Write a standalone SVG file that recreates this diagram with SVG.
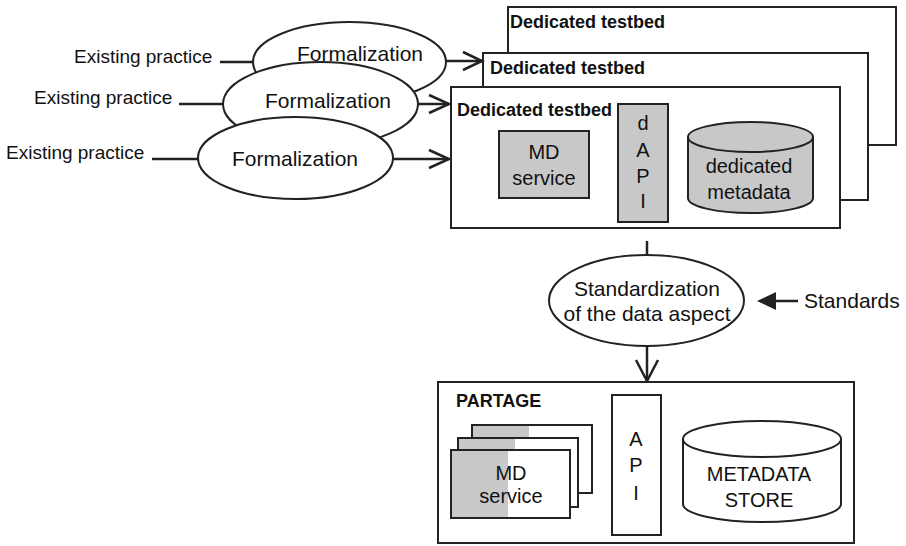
<svg xmlns="http://www.w3.org/2000/svg" width="906" height="546" viewBox="0 0 906 546">
  <style>
    .bg { fill: #ffffff; }
    .box { fill: #ffffff; stroke: #222; stroke-width: 2; }
    .gray { fill: #c8c8c9; stroke: #222; stroke-width: 2; }
    .shade { fill: #c8c8c9; stroke: none; }
    .edge { fill: none; stroke: #222; stroke-width: 2.5; }
    .head { fill: none; stroke: #222; stroke-width: 2.5; stroke-linejoin: miter; }
    .t { font-family: "Liberation Sans", Arial, sans-serif; fill: #111; }
    .lbl { font-size: 19px; }
    .proc { font-size: 21px; text-anchor: middle; }
    .title { font-size: 18px; font-weight: bold; }
    .inner { font-size: 20px; text-anchor: middle; }
  </style>

  <rect class="bg" x="0" y="0" width="906" height="546"/>

  <!-- Input labels -->
  <g id="practice1"><text class="t lbl" x="74" y="63">Existing practice</text></g>
  <g id="practice2"><text class="t lbl" x="34" y="104">Existing practice</text></g>
  <g id="practice3"><text class="t lbl" x="6" y="159">Existing practice</text></g>

  <!-- Stacked testbeds (back to front) -->
  <g id="testbed3">
    <rect class="box" x="508" y="7" width="388" height="138"/>
    <text class="t title" x="510" y="28">Dedicated testbed</text>
  </g>
  <g id="testbed2">
    <rect class="box" x="483" y="53" width="385" height="147"/>
    <text class="t title" x="490" y="74">Dedicated testbed</text>
  </g>
  <g id="testbed1">
    <rect class="box" x="451" y="87" width="389" height="141"/>
    <text class="t title" x="457" y="116">Dedicated testbed</text>
    <g id="md-service">
      <rect class="gray" x="499" y="131" width="90" height="67"/>
      <text class="t inner" x="544" y="159">MD</text>
      <text class="t inner" x="544" y="185">service</text>
    </g>
    <g id="dapi">
      <rect class="gray" x="618" y="104" width="50" height="118"/>
      <text class="t inner" x="643" y="130">d</text>
      <text class="t inner" x="643" y="157">A</text>
      <text class="t inner" x="643" y="183">P</text>
      <text class="t inner" x="643" y="208">I</text>
    </g>
    <g id="dedicated-metadata">
      <path class="gray" d="M688,137 L688,198 A62.5,15 0 0 0 813,198 L813,137 Z"/>
      <ellipse class="gray" cx="750.5" cy="137" rx="62.5" ry="15"/>
      <text class="t inner" x="749" y="173">dedicated</text>
      <text class="t inner" x="749" y="199">metadata</text>
    </g>
  </g>

  <!-- Connectors -->
  <g id="connectors">
    <line class="edge" x1="220" y1="62" x2="254" y2="62"/>
    <line class="edge" x1="179" y1="104" x2="224" y2="104"/>
    <line class="edge" x1="152" y1="159" x2="199" y2="159"/>
    <line class="edge" x1="440" y1="61" x2="482" y2="61"/>
    <polyline class="head" points="463,52 482,61 463,70"/>
    <line class="edge" x1="410" y1="104" x2="449" y2="104"/>
    <polyline class="head" points="429,95 449,104 429,113"/>
    <line class="edge" x1="390" y1="159" x2="449" y2="159"/>
    <polyline class="head" points="429,150 449,159 429,168"/>
    <line class="edge" x1="647" y1="241" x2="647" y2="256"/>
    <line class="edge" x1="647" y1="345" x2="647" y2="381"/>
    <polyline class="head" points="636,360 647,381 658,360"/>
    <line class="edge" x1="770" y1="301" x2="798" y2="301"/>
    <polygon fill="#222" points="757,301 776,292 776,310"/>
  </g>

  <!-- Formalization processes (back to front) -->
  <g id="formalization1">
    <ellipse class="box" cx="349.5" cy="62" rx="96.5" ry="40"/>
    <text class="t proc" x="360" y="61">Formalization</text>
  </g>
  <g id="formalization2">
    <ellipse class="box" cx="320.5" cy="104" rx="97.5" ry="42"/>
    <text class="t proc" x="328" y="108">Formalization</text>
  </g>
  <g id="formalization3">
    <ellipse class="box" cx="295.5" cy="158" rx="97.5" ry="41"/>
    <text class="t proc" x="295" y="166">Formalization</text>
  </g>

  <!-- Standardization process -->
  <g id="standardization">
    <ellipse class="box" cx="646.5" cy="300.5" rx="97.5" ry="45.5"/>
    <text class="t proc" x="647" y="296">Standardization</text>
    <text class="t proc" x="647" y="321">of the data aspect</text>
  </g>
  <g id="standards">
    <text class="t" x="804" y="308" font-size="21px">Standards</text>
  </g>

  <!-- PARTAGE platform -->
  <g id="partage">
    <rect class="box" x="438" y="382" width="416" height="161"/>
    <text class="t title" x="456" y="407">PARTAGE</text>
    <g id="md-services">
      <rect class="box" x="472" y="425" width="120" height="68"/>
      <rect class="shade" x="473" y="426" width="56" height="66"/>
      <rect class="box" x="458" y="438" width="120" height="69"/>
      <rect class="shade" x="459" y="439" width="56" height="67"/>
      <rect class="box" x="451" y="450" width="119" height="68"/>
      <rect class="shade" x="452" y="451" width="56" height="66"/>
      <rect x="451" y="450" width="119" height="68" fill="none" stroke="#222" stroke-width="2"/>
      <text class="t inner" x="511" y="480">MD</text>
      <text class="t inner" x="511" y="503">service</text>
    </g>
    <g id="api">
      <rect class="box" x="612" y="395" width="49" height="140"/>
      <text class="t inner" x="636" y="446">A</text>
      <text class="t inner" x="636" y="472">P</text>
      <text class="t inner" x="636" y="500">I</text>
    </g>
    <g id="metadata-store">
      <path class="box" d="M683,439 L683,504 A79,18 0 0 0 841,504 L841,439 Z"/>
      <ellipse class="box" cx="762" cy="439" rx="79" ry="18"/>
      <text class="t inner" x="759" y="481">METADATA</text>
      <text class="t inner" x="759" y="507">STORE</text>
    </g>
  </g>
</svg>
